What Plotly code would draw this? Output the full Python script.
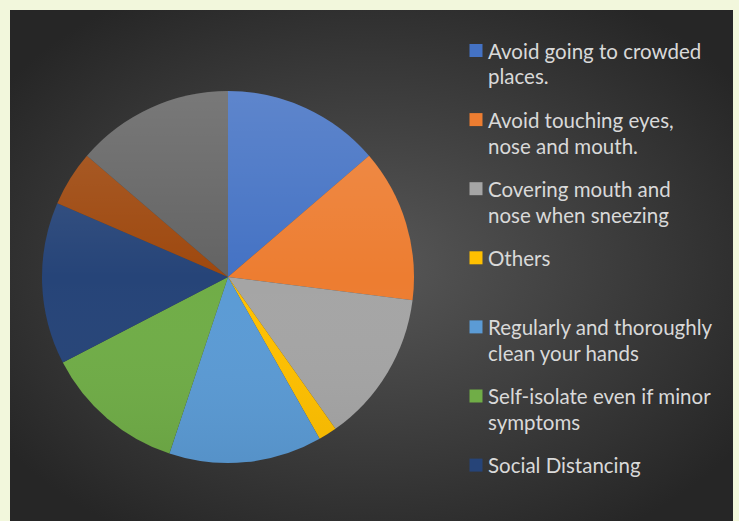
import base64
import plotly.graph_objects as go

W, H = 739, 521

# Survey answers (clockwise from 12 o'clock) and their share of responses
labels = [
    "Avoid going to crowded<br>places.",
    "Avoid touching eyes,<br>nose and mouth.",
    "Covering mouth and<br>nose when sneezing",
    "Others",
    "Regularly and thoroughly<br>clean your hands",
    "Self-isolate even if minor<br>symptoms",
    "Social Distancing",
    "Unlisted 1",
    "Unlisted 2",
]
values = [13.7, 13.3, 13.2, 1.6, 13.3, 12.3, 14.1, 4.8, 13.7]
colors = ["#4472C4", "#ED7D31", "#A5A5A5", "#FFC000", "#5B9BD5",
          "#70AD47", "#264478", "#9E480E", "#636363"]
legend_count = 7  # entries that fit in the legend box

# pie geometry in pixels
cx, cy, r = 228, 277, 186


def svg_uri(svg):
    return "data:image/svg+xml;base64," + base64.b64encode(svg.encode()).decode()


bg_svg = (
    '<svg xmlns="http://www.w3.org/2000/svg" width="723" height="511" '
    'viewBox="0 0 723 511" preserveAspectRatio="none">'
    '<defs><radialGradient id="g" cx="0.5" cy="0.5" r="0.62">'
    '<stop offset="0" stop-color="#575757"/>'
    '<stop offset="1" stop-color="#262626"/>'
    '</radialGradient></defs>'
    '<rect width="723" height="511" fill="url(#g)"/></svg>'
)

shade_svg = (
    '<svg xmlns="http://www.w3.org/2000/svg" width="372" height="372" '
    'viewBox="0 0 372 372">'
    '<defs><linearGradient id="s" x1="0" y1="0" x2="0" y2="1">'
    '<stop offset="0" stop-color="#ffffff" stop-opacity="0.14"/>'
    '<stop offset="0.5" stop-color="#ffffff" stop-opacity="0.0"/>'
    '<stop offset="1" stop-color="#000000" stop-opacity="0.06"/>'
    '</linearGradient></defs>'
    '<circle cx="186" cy="186" r="186" fill="url(#s)"/></svg>'
)

fig = go.Figure()
fig.add_trace(go.Pie(
    labels=labels,
    values=values,
    sort=False,
    direction="clockwise",
    rotation=0,
    marker=dict(colors=colors, line=dict(width=0)),
    textinfo="none",
    hoverinfo="label+percent",
    showlegend=False,
    domain=dict(x=[(cx - r) / W, (cx + r) / W],
                y=[(H - cy - r) / H, (H - cy + r) / H]),
))

# legend: colour swatch plus wrapped label lines
font = dict(family="Lato, Open Sans, sans-serif", size=20.5, color="#D9D9D9")
shapes, annotations = [], []
first_y, step, line_gap, sw = 50.5, 69.1, 26, 13
sx, tx = 469.5, 486
for i in range(legend_count):
    yc = first_y + i * step
    shapes.append(dict(type="rect", xref="paper", yref="paper",
                       x0=sx / W, x1=(sx + sw) / W,
                       y0=(H - yc - sw / 2) / H, y1=(H - yc + sw / 2) / H,
                       fillcolor=colors[i], line=dict(width=0)))
    for j, line in enumerate(labels[i].split("<br>")):
        annotations.append(dict(xref="paper", yref="paper", x=tx / W,
                                y=(H - (yc + j * line_gap)) / H,
                                xanchor="left", yanchor="middle",
                                text=line, showarrow=False, font=font))

fig.update_layout(
    width=W, height=H,
    margin=dict(l=0, r=0, t=0, b=0),
    paper_bgcolor="#F2F7DC",
    plot_bgcolor="rgba(0,0,0,0)",
    shapes=shapes,
    annotations=annotations,
    images=[
        dict(source=svg_uri(bg_svg), xref="paper", yref="paper",
             x=10 / W, y=(H - 10) / H, sizex=723 / W, sizey=511 / H,
             xanchor="left", yanchor="top", sizing="stretch", layer="below"),
        dict(source=svg_uri(shade_svg), xref="paper", yref="paper",
             x=(cx - r) / W, y=(H - cy + r) / H, sizex=2 * r / W, sizey=2 * r / H,
             xanchor="left", yanchor="top", sizing="stretch", layer="above"),
    ],
)

fig.write_html("out.html")
